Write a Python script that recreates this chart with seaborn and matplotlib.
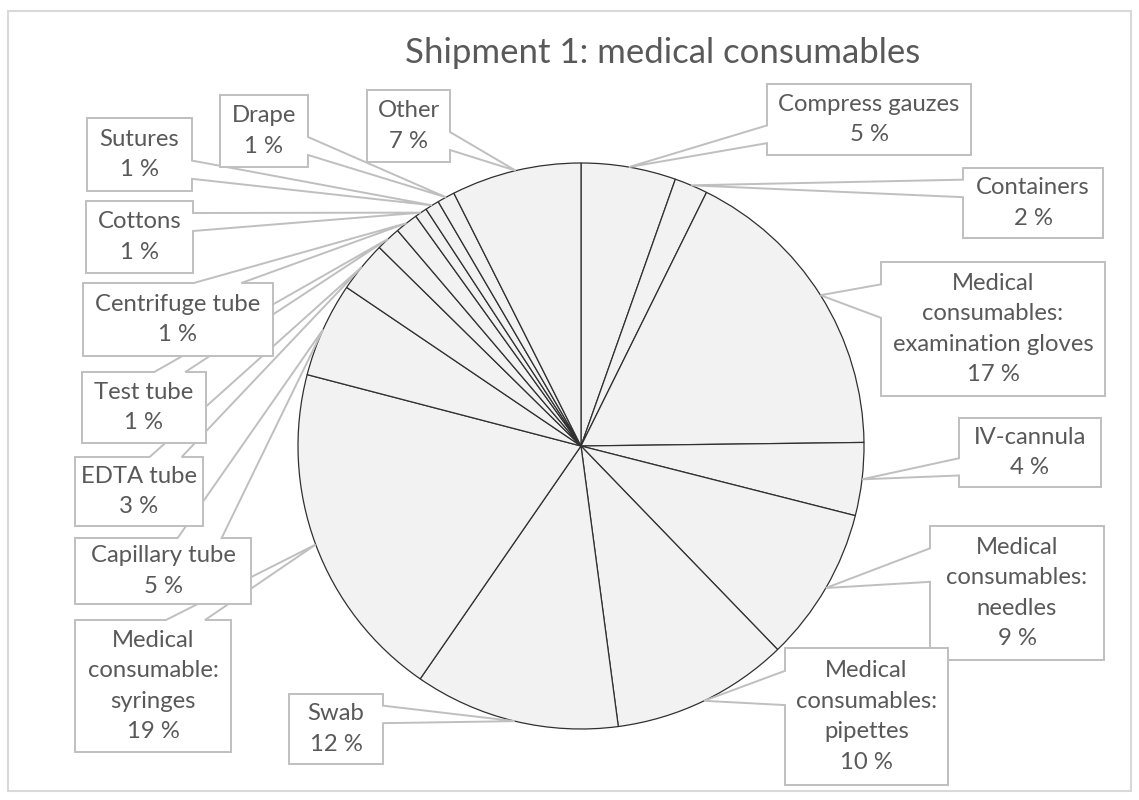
import matplotlib
matplotlib.use("Agg")
import matplotlib.pyplot as plt
import seaborn as sns
import numpy as np
from matplotlib.patches import Polygon, Rectangle

sns.set_theme(style="white")
plt.rcParams['font.family'] = ['Lato', 'DejaVu Sans']

# ---- data ----
categories = ["Compress gauzes", "Containers",
              "Medical\nconsumables:\nexamination gloves", "IV-cannula",
              "Medical\nconsumables:\nneedles", "Medical\nconsumables:\npipettes",
              "Swab", "Medical\nconsumable:\nsyringes", "Capillary tube",
              "EDTA tube", "Test tube", "Centrifuge tube", "Cottons",
              "Sutures", "Drape", "Other"]
values = [5.4, 1.9, 17.45, 4.15, 8.8, 10.1, 11.7, 19.4, 5.4, 2.9,
          1.4, 1.3, 0.7, 0.8, 1.0, 7.4]
title = "Shipment 1: medical consumables"

# ---- layout (pixel boxes: left, top, right, bottom) ----
W, H = 1139, 800
boxes = [(767, 84, 971, 155), (963, 168, 1103, 238), (881, 262, 1105, 396),
         (959, 418, 1101, 487), (930, 526, 1104, 660), (785, 648, 948, 785),
         (289, 694, 383, 764), (75, 620, 231, 752), (75, 538, 251, 604),
         (75, 457, 203, 526), (82, 372, 206, 443), (83, 283, 273, 356),
         (86, 201, 193, 273), (87, 118, 192, 191), (220, 95, 308, 167),
         (367, 90, 450, 162)]
cx, cy_pix, R = 581, 446, 283
text_color = "#595959"
line_color = "#bfbfbf"

fig = plt.figure(figsize=(W / 100, H / 100), dpi=100)
ax = fig.add_axes([0, 0, 1, 1])

wedges, _ = ax.pie(values, startangle=90, counterclock=False,
                   center=(cx, H - cy_pix), radius=R,
                   colors=["#f2f2f2"] * len(values),
                   wedgeprops=dict(edgecolor="#303030", linewidth=0.9))
ax.set_xlim(0, W)
ax.set_ylim(0, H)
ax.set_aspect('equal')
ax.axis('off')


def callout(l, t, r, b, tipx, tipy):
    """OOXML wedgeRectCallout path in pixel coords (y down)."""
    w, h = r - l, b - t
    hc, vc = (l + r) / 2, (t + b) / 2
    dxPos, dyPos = tipx - hc, tipy - vc
    xPos, yPos = tipx, tipy
    dq = dxPos * h / w
    dz = abs(dyPos) - abs(dq)
    xg1, xg2 = (7, 10) if dxPos > 0 else (2, 5)
    yg1, yg2 = (7, 10) if dyPos > 0 else (2, 5)
    x1, x2 = l + w * xg1 / 12, l + w * xg2 / 12
    y1, y2 = t + h * yg1 / 12, t + h * yg2 / 12
    xl = l if dz > 0 else (l if dxPos > 0 else xPos)
    xt = (x1 if dyPos > 0 else xPos) if dz > 0 else x1
    xr = r if dz > 0 else (xPos if dxPos > 0 else r)
    xb = (xPos if dyPos > 0 else x1) if dz > 0 else x1
    yl = y1 if dz > 0 else (y1 if dxPos > 0 else yPos)
    yt = (t if dyPos > 0 else yPos) if dz > 0 else t
    yr = y1 if dz > 0 else (yPos if dxPos > 0 else y1)
    yb = (yPos if dyPos > 0 else b) if dz > 0 else b
    pts = [(l, t), (x1, t), (xt, yt), (x2, t), (r, t), (r, y1), (xr, yr),
           (r, y2), (r, b), (x2, b), (xb, yb), (x1, b), (l, b), (l, y2),
           (xl, yl), (l, y1)]
    return [(x, H - y) for x, y in pts]


for i, (wd, name, val, box) in enumerate(zip(wedges, categories, values, boxes)):
    mid = np.deg2rad((wd.theta1 + wd.theta2) / 2)
    tipx = wd.center[0] + wd.r * np.cos(mid)
    tipy = H - (wd.center[1] + wd.r * np.sin(mid))
    l, t, r, b = box
    poly = Polygon(callout(l, t, r, b, tipx, tipy), closed=True,
                   facecolor="white", edgecolor=line_color, linewidth=1.4,
                   zorder=3 + i * 0.01, joinstyle="miter")
    ax.add_patch(poly)
    ax.text((l + r) / 2, H - (t + b) / 2, f"{name}\n{val:.0f} %",
            ha="center", va="center", fontsize=17.2, color=text_color,
            linespacing=1.55, zorder=4 + i * 0.01)

ax.text(405, H - 63, title, ha="left", va="baseline", fontsize=25,
        color=text_color)

ax.add_patch(Rectangle((8, H - 791), 1123, 780, fill=False,
                       edgecolor="#d9d9d9", linewidth=1.5, zorder=0))

fig.savefig("out.png", dpi=100)
